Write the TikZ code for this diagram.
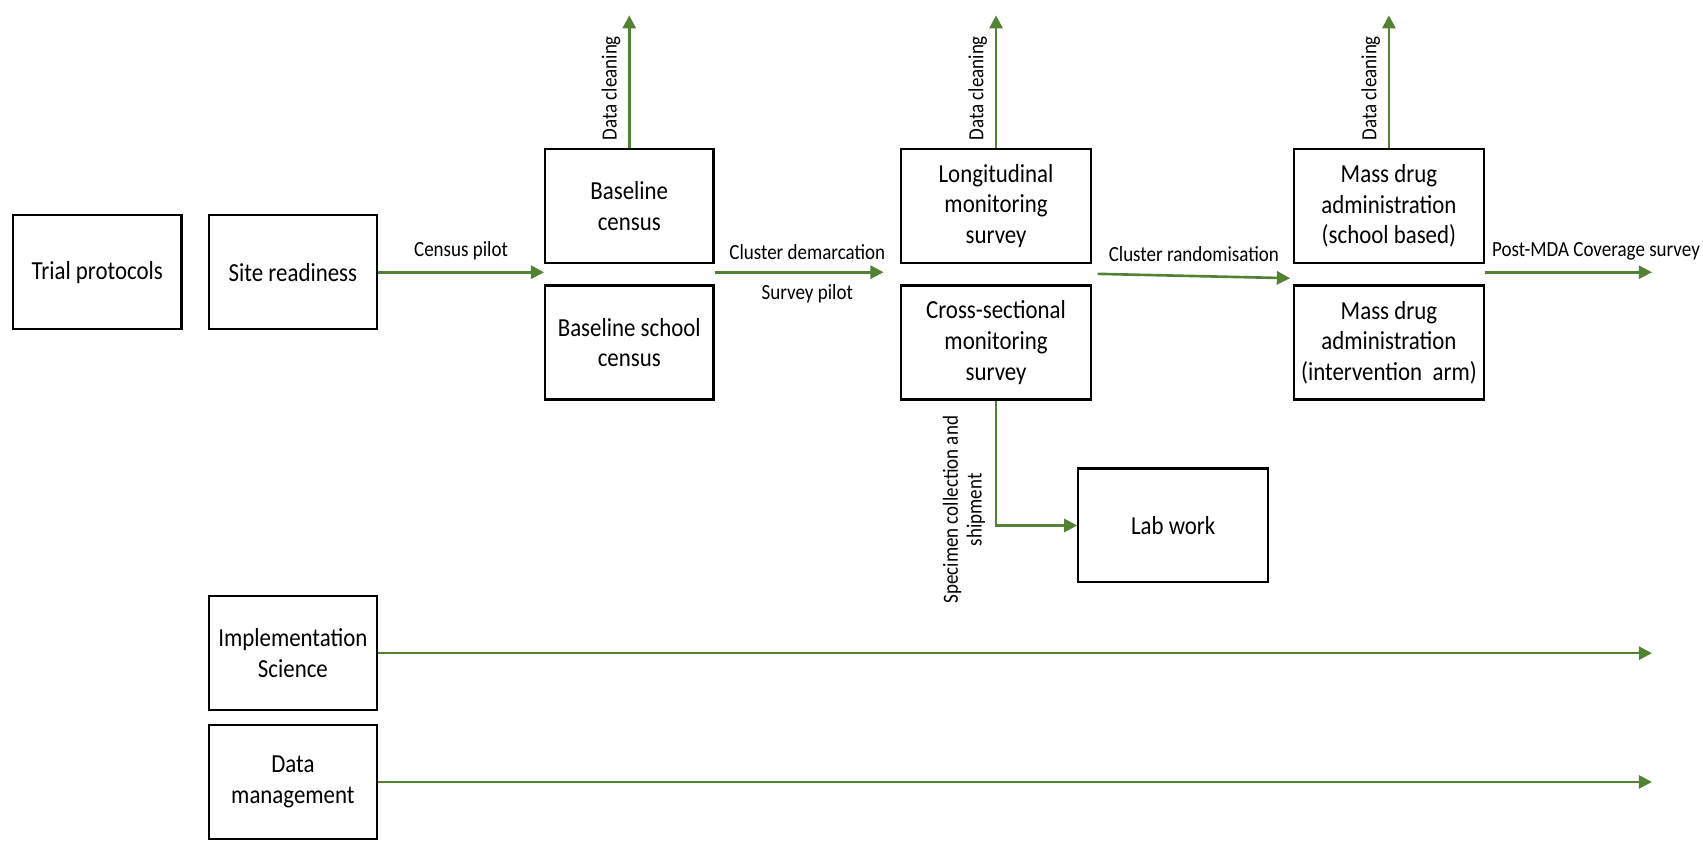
\documentclass[tikz,border=0pt]{standalone}
\usepackage{fontspec}
\setmainfont{Carlito}[FakeStretch=0.88]
\usetikzlibrary{arrows.meta,positioning}
\definecolor{flowgreen}{RGB}{84,130,53}

\begin{document}
\begin{tikzpicture}[x=0.02174cm,y=-0.02174cm,
    box/.style={draw,line width=1.2pt,align=center,inner sep=2pt,
      minimum width=3.37cm,minimum height=2.28cm,
      font=\fontsize{14.8}{17.4}\selectfont},
    wbox/.style={box,minimum width=3.8cm},
    flow/.style={flowgreen,line width=1.5pt,-{Triangle[length=7.5pt,width=7.5pt]}},
    lbl/.style={black,font=\fontsize{12.3}{13.6}\selectfont}]
  \useasboundingbox (0,0) rectangle (1567,781);
  % left column
  \node[box] (trial) at (89.5,250.5) {Trial protocols};
  \node[box] (site) at (269.5,250.5) {Site readiness};
  \node[box] (impl) at (269.5,601) {Implementation\\Science};
  \node[box] (dman) at (269.5,719.5) {Data\\management};
  % study steps
  \node[box] (bcen) at (579,189.5) {Baseline\\census};
  \node[box,below=0.41cm of bcen] (bscen) {Baseline school\\census};
  \node[wbox] (lon) at (916.5,189.5) {Longitudinal\\monitoring\\survey};
  \node[wbox,below=0.41cm of lon] (cross) {Cross-sectional\\monitoring\\survey};
  \node[wbox] (mdas) at (1278,189.5) {Mass drug\\administration\\(school based)};
  \node[wbox,below=0.41cm of mdas] (mdai) {Mass drug\\administration\\(intervention~~arm)};
  \node[wbox] (lab) at (1079.5,483.5) {Lab work};
  % free ends
  \coordinate (rs) at (1010,252);
  \coordinate (re) at (1187,256);
  \coordinate (endP) at (1520,253);
  \coordinate (endI) at (1520,602);
  \coordinate (endD) at (1520,720);
  \draw[flow] (site.east) -- (site.east -| bcen.west)
    node[midway,above=3pt,lbl] {Census pilot};
  \draw[flow,shorten >=0.33cm] (bcen.east |- site.east) -- (lon.west |- site.east)
    node[midway,above=3pt,lbl] {Cluster demarcation}
    node[midway,below=3pt,lbl] {Survey pilot};
  \draw[flow] (rs) -- (re) node[midway,above=4pt,lbl] {Cluster randomisation};
  \draw[flow] (mdas.east |- site.east) -- (endP |- site.east)
    node[pos=0,above right=3pt and 0pt,lbl] {Post-MDA Coverage survey};
  \foreach \B in {bcen,lon,mdas}
    {\draw[flow] (\B.north) -- ++(0,-122)
      node[pos=0.45,sloped,above=1pt,lbl] {Data cleaning};}
  \draw[flow] (cross.south) |- (lab.west);
  \node[lbl,rotate=90,align=center] (spec) at (887,469)
    {Specimen collection and\\shipment};
  \draw[flow] (impl.east) -- (endI |- impl.east);
  \draw[flow] (dman.east) -- (endD |- dman.east);
\end{tikzpicture}
\end{document}
